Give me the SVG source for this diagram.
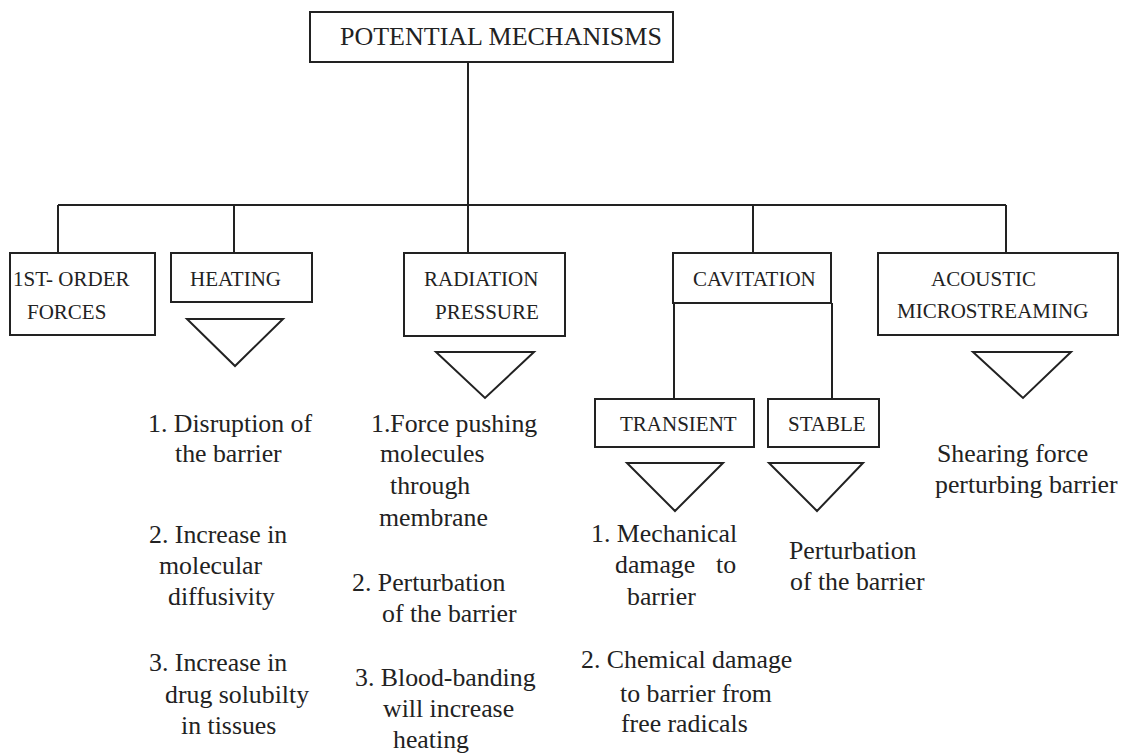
<svg xmlns="http://www.w3.org/2000/svg" width="1138" height="756" viewBox="0 0 1138 756" font-family="'Liberation Serif', 'DejaVu Serif', serif">
<style>
.box{fill:none;stroke:#222;stroke-width:2}
.tri{fill:none;stroke:#222;stroke-width:2;stroke-linejoin:miter}
.ln{fill:none;stroke:#222;stroke-width:2}
text{font-family:'Liberation Serif','DejaVu Serif',serif;fill:#222}
.t{font-size:26px}
.b{font-size:21px}
.x{font-size:25.8px}
</style>
<rect width="1138" height="756" fill="#fff"/>
<g id="connectors">
<path class="ln" d="M468,62 V253 M58,205 H1006 M58,205 V253 M234,205 V253 M753,205 V253 M1006,205 V253 M674,303 V399 M832,303 V399"/>
</g>
<g id="potential-mechanisms">
<rect class="box" x="310" y="12" width="363" height="50"/>
<text class="t" x="340" y="45">POTENTIAL MECHANISMS</text>
</g>
<g id="first-order-forces">
<rect class="box" x="10" y="253" width="145" height="82"/>
<text class="b" x="13" y="286">1ST- ORDER</text>
<text class="b" x="27" y="319">FORCES</text>
</g>
<g id="heating">
<rect class="box" x="171" y="253" width="141" height="49"/>
<text class="b" x="190" y="286">HEATING</text>
<path class="tri" d="M187,319 H283 L235,366 Z"/>
<text class="x" x="148" y="432">1. Disruption of</text>
<text class="x" x="175" y="462">the barrier</text>
<text class="x" x="149" y="543">2. Increase in</text>
<text class="x" x="159" y="574">molecular</text>
<text class="x" x="168" y="605">diffusivity</text>
<text class="x" x="149" y="671">3. Increase in</text>
<text class="x" x="165" y="703">drug solubilty</text>
<text class="x" x="181" y="734">in tissues</text>
</g>
<g id="radiation-pressure">
<rect class="box" x="404" y="253" width="161" height="83"/>
<text class="b" x="424" y="286">RADIATION</text>
<text class="b" x="435" y="319">PRESSURE</text>
<path class="tri" d="M436,352 H534 L485,398 Z"/>
<text class="x" x="371" y="432">1.Force pushing</text>
<text class="x" x="380" y="462">molecules</text>
<text class="x" x="390" y="494">through</text>
<text class="x" x="379" y="526">membrane</text>
<text class="x" x="352" y="591">2. Perturbation</text>
<text class="x" x="382" y="622">of the barrier</text>
<text class="x" x="355" y="686">3. Blood-banding</text>
<text class="x" x="383" y="717">will increase</text>
<text class="x" x="393" y="748">heating</text>
</g>
<g id="cavitation">
<rect class="box" x="673" y="253" width="158" height="50"/>
<text class="b" x="693" y="286">CAVITATION</text>
</g>
<g id="transient">
<rect class="box" x="595" y="399" width="159" height="48"/>
<text class="b" x="620" y="431">TRANSIENT</text>
<path class="tri" d="M627,463 H723 L675,511 Z"/>
<text class="x" x="591" y="542">1. Mechanical</text>
<text class="x" x="615" y="573">damage</text>
<text class="x" x="716" y="573">to</text>
<text class="x" x="627" y="605">barrier</text>
<text class="x" x="581" y="668">2. Chemical damage</text>
<text class="x" x="620" y="702">to barrier from</text>
<text class="x" x="621" y="732">free radicals</text>
</g>
<g id="stable">
<rect class="box" x="768" y="399" width="111" height="48"/>
<text class="b" x="788" y="431">STABLE</text>
<path class="tri" d="M769,463 H863 L817,511 Z"/>
<text class="x" x="789" y="559">Perturbation</text>
<text class="x" x="790" y="590">of the barrier</text>
</g>
<g id="acoustic-microstreaming">
<rect class="box" x="878" y="253" width="240" height="82"/>
<text class="b" x="931" y="286">ACOUSTIC</text>
<text class="b" x="897" y="318">MICROSTREAMING</text>
<path class="tri" d="M973,352 H1071 L1023,398 Z"/>
<text class="x" x="937" y="462">Shearing force</text>
<text class="x" x="935" y="493">perturbing barrier</text>
</g>
</svg>
